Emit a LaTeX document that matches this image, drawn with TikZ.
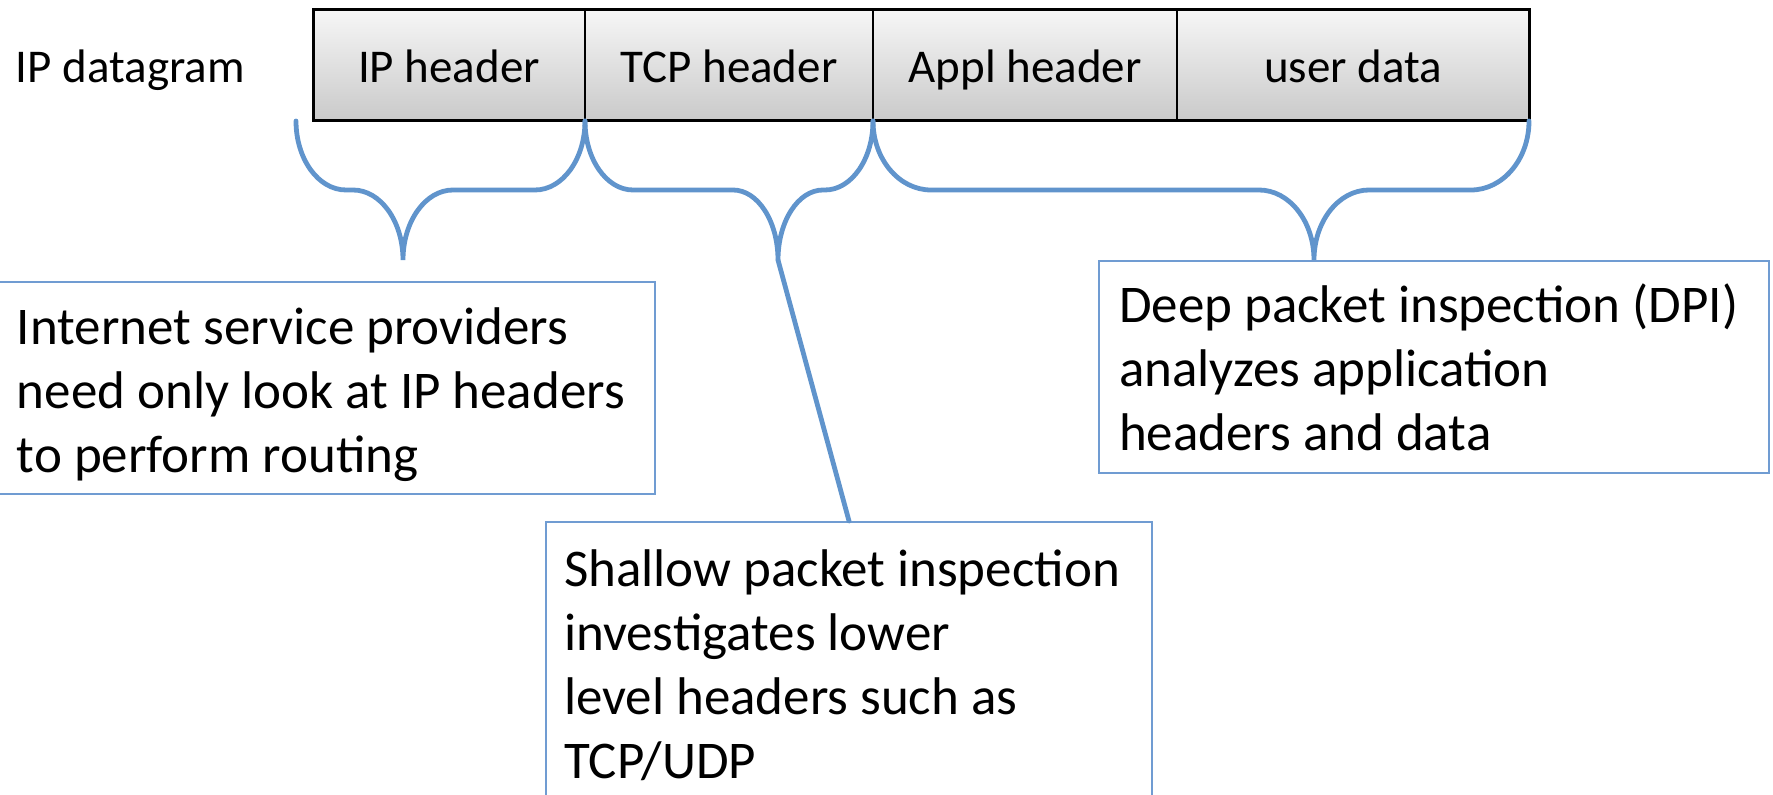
\documentclass[tikz,border=0pt]{standalone}
\usepackage{fontspec}
\setmainfont{Carlito}
\usepackage{tikz}
\usetikzlibrary{calc,positioning,shadows}
\definecolor{bracecol}{RGB}{96,148,204}
\definecolor{notecol}{RGB}{112,156,210}
\tikzset{
  hdr/.style={draw, line width=1pt, top color=gray!7, bottom color=gray!42, minimum width=#1, minimum height=55.5pt, inner sep=0pt, outer sep=0pt, text height=17.5pt, text depth=0pt, font=\fontsize{23.5}{28}\selectfont},
  note/.style={draw=notecol, line width=1pt, anchor=north west, inner xsep=9pt, inner ysep=9pt, font=\fontsize{26.5}{32}\selectfont},
  brace/.style={draw=bracecol, line width=2.4pt, line cap=round}
}
% #1 left end, #2 tip, #3 right end, #4 arm width, #5 tip width
\newcommand{\pbrace}[5]{
	\draw[brace] (#1) arc[start angle=180, end angle=90, x radius=#4, y radius=69]
		-- ($(#2)+(-#5,-70)$) arc[start angle=-90, end angle=0, x radius=#5, y radius=70]
		arc[start angle=180, end angle=270, x radius=#5, y radius=70]
		-- ($(#3)+(-#4,69)$) arc[start angle=90, end angle=0, x radius=#4, y radius=69];
}
\begin{document}
\begin{tikzpicture}[x=0.5pt, y=-0.5pt]
				\useasboundingbox (0,0) rectangle (1773,795);
				\node[hdr=136pt, anchor=north west] (ip) at (313,10) {IP header};
				\node[hdr=144pt, right=0pt of ip] (tcp) {TCP header};
				\node[hdr=152pt, right=0pt of tcp] (appl) {Appl header};
				\node[hdr=176pt, right=0pt of appl] (data) {user data};
				\draw[line width=1.5pt] (ip.north west) rectangle (data.south east);
				\node[inner sep=0pt, left=34pt of ip, text height=17.5pt, text depth=0pt, font=\fontsize{23.5}{28}\selectfont] (dgram) {IP datagram};

				\coordinate (ispl) at ($(ip.south west)+(-17,0)$);
				\coordinate (isptip) at (403,260);
				\coordinate (shtip) at (778,260);
				\coordinate (dpitip) at (1314,260);
				\pbrace{ispl}{isptip}{ip.south east}{50}{50}
				\pbrace{ip.south east}{shtip}{tcp.south east}{48}{45}
				\pbrace{tcp.south east}{dpitip}{data.south east}{58}{55}

				\node[note] (isp) at (-2,281) {\parbox[t][87.8pt][t]{310pt}{\raggedright\strut Internet service providers\\need only look at IP headers\\to perform routing}};
				\node[note, inner xsep=10pt, inner ysep=8.6pt] (dpi) at (1098,260) {\parbox[t][88.8pt][t]{315pt}{\raggedright\strut Deep packet inspection (DPI)\\analyzes application\\headers and data}};
				\node[note, inner ysep=10pt] (sh) at (545,521) {\parbox[t][160pt][t]{285pt}{\raggedright\strut Shallow packet inspection\\investigates lower\\level headers such as\\TCP/UDP}};
				\draw[brace] (shtip) -- (sh.north);
\end{tikzpicture}
\end{document}
